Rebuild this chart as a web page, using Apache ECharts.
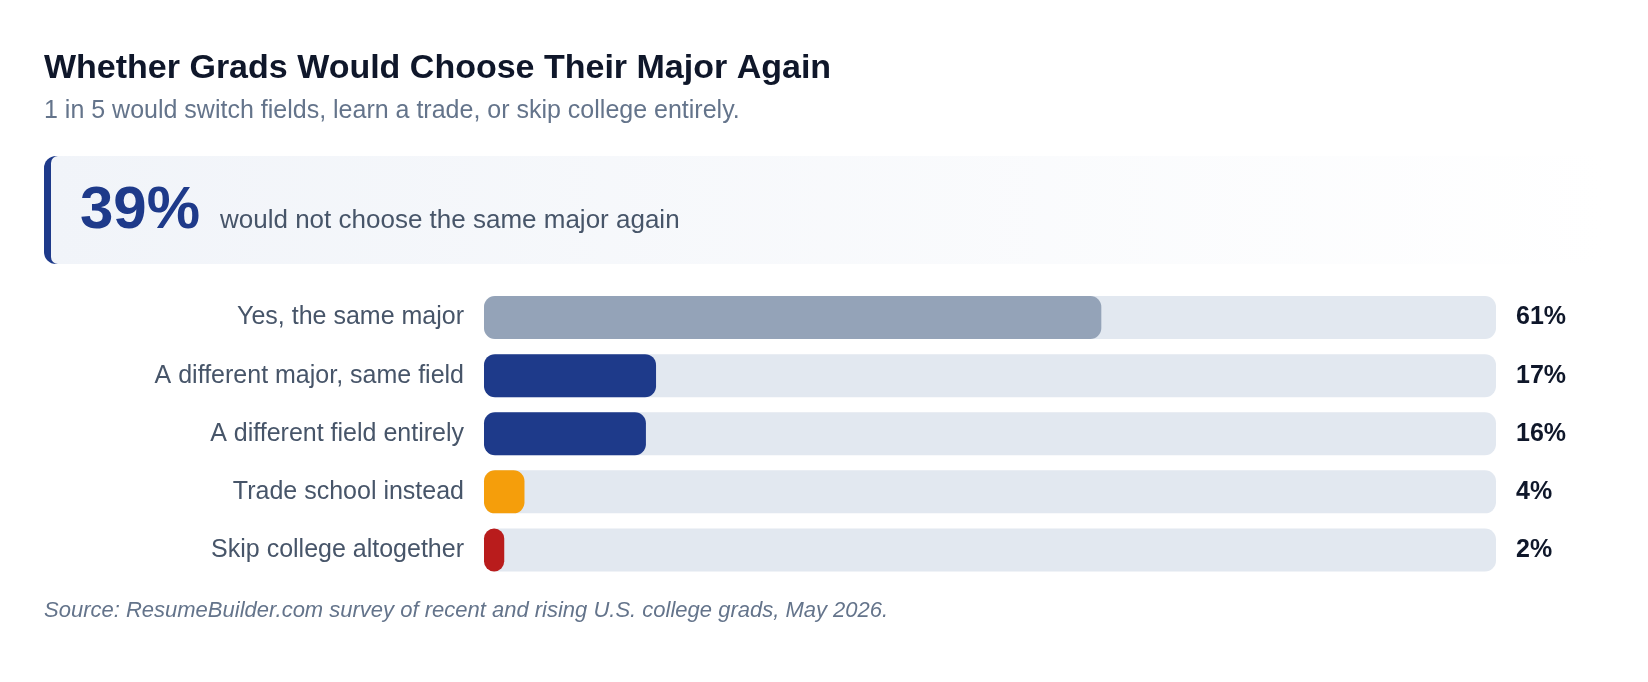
<!DOCTYPE html>
<html>
<head>
<meta charset="utf-8">
<script src="https://cdn.jsdelivr.net/npm/echarts@6/dist/echarts.min.js"></script>
<style>
  html, body { margin: 0; padding: 0; background: #ffffff; }
  #main { width: 1648px; height: 682px; }
</style>
</head>
<body>
<div id="main"></div>
<script>
// data
const categories = ['Yes, the same major', 'A different major, same field', 'A different field entirely', 'Trade school instead', 'Skip college altogether'];
const shares = [61, 17, 16, 4, 2];
const barColors = ['#94a3b8', '#1e3a8a', '#1e3a8a', '#f59e0b', '#b91c1c'];
const headline = '39%';
const headlineText = 'would not choose the same major again';

const font = '"Liberation Sans", Arial, Helvetica, sans-serif';

var chart = echarts.init(document.getElementById('main'), null, { renderer: 'canvas' });

chart.setOption({
    backgroundColor: '#ffffff',
    animation: false,
    textStyle: { fontFamily: font },
    grid: {
        left: 484,
        right: 152,
        top: 288.5,
        bottom: 103,
    },
    xAxis: {
        type: 'value',
        min: 0,
        max: 100,
        show: false,
    },
    yAxis: [
        {
            type: 'category',
            inverse: true,
            data: categories,
            axisLine: { show: false },
            axisTick: { show: false },
            axisLabel: {
                margin: 20,
                padding: [4, 0, 0, 0],
                fontSize: 25,
                color: '#475569',
                fontFamily: font,
            },
        },
        {
            type: 'category',
            inverse: true,
            position: 'right',
            data: shares.map(v => v + '%'),
            axisLine: { show: false },
            axisTick: { show: false },
            axisLabel: {
                margin: 20,
                padding: [4, 0, 0, 0],
                align: 'left',
                fontSize: 25,
                fontWeight: 'bold',
                color: '#0f172a',
                fontFamily: font,
            },
        },
    ],
    series: [
        {
            type: 'bar',
            barWidth: 43,
            showBackground: true,
            backgroundStyle: {
                color: '#e2e8f0',
                borderRadius: 11,
            },
            data: shares.map((v, i) => ({
                value: v,
                itemStyle: { color: barColors[i], borderRadius: 11 },
            })),
        },
    ],
    graphic: [
        {
            type: 'text',
            left: 44,
            top: 52,
            style: {
                text: 'Whether Grads Would Choose Their Major Again',
                font: 'bold 34px ' + font,
                fill: '#0f172a',
            },
        },
        {
            type: 'text',
            left: 44,
            top: 99,
            style: {
                text: '1 in 5 would switch fields, learn a trade, or skip college entirely.',
                font: '25px ' + font,
                fill: '#64748b',
            },
        },
        // callout box
        {
            type: 'rect',
            shape: { x: 44, y: 156, width: 30, height: 108, r: [12, 0, 0, 12] },
            style: { fill: '#1e3a8a' },
        },
        {
            type: 'rect',
            shape: { x: 51, y: 156, width: 1553, height: 108, r: [7, 12, 12, 7] },
            style: {
                fill: new echarts.graphic.LinearGradient(0, 0, 1, 0, [
                    { offset: 0, color: '#f1f4f9' },
                    { offset: 1, color: '#ffffff' },
                ]),
            },
        },
        {
            type: 'text',
            left: 80,
            top: 181,
            style: {
                text: headline,
                font: 'bold 60px ' + font,
                fill: '#1e3a8a',
            },
        },
        {
            type: 'text',
            left: 220,
            top: 207.5,
            style: {
                text: headlineText,
                font: '26px ' + font,
                fill: '#475569',
            },
        },
        {
            type: 'text',
            left: 44,
            top: 600,
            style: {
                text: 'Source: ResumeBuilder.com survey of recent and rising U.S. college grads, May 2026.',
                font: 'italic 22px ' + font,
                fill: '#64748b',
            },
        },
    ],
});
</script>
</body>
</html>
